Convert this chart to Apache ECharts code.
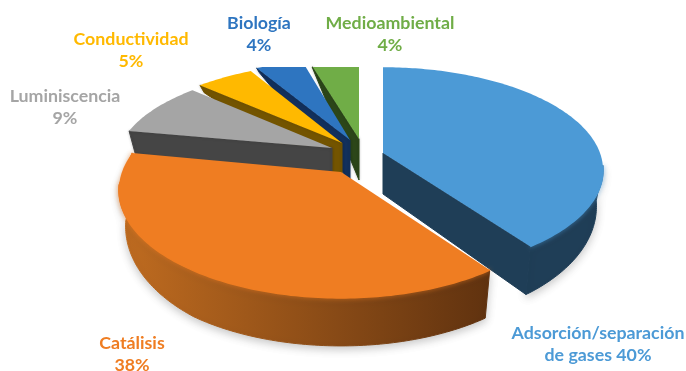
<!DOCTYPE html>
<html><head><meta charset="utf-8">
<style>html,body{margin:0;padding:0;background:#fff}#c{width:686px;height:371px}</style>
<script src="https://cdn.jsdelivr.net/npm/echarts@6/dist/echarts.min.js"></script>
</head><body><div id="c"></div>
<script>
const categories = ["Adsorción/separación\nde gases","Catálisis","Luminiscencia","Conductividad","Biología","Medioambiental"];
const values = [40,38,9,5,4,4];
const topColors = ["#4C9AD6","#EF7D22","#A5A5A5","#FFB900","#2E75C0","#70AD47"];
const wallColors = ["#1F3E57","#C06C20","#454545","#735400","#12305C","#2C4619"];
const wallEndColors = ["#1F3E57","#60320F","#454545","#735400","#12305C","#2C4619"];
const labelColors = ["#4C9AD6","#EF7D22","#A5A5A5","#FFB900","#2E75C0","#70AD47"];

// Exploded-3D view geometry of each slice
const apexX = [383,341,332,342,350,359];
const apexY = [153,172,148,143,140,139];
const radX  = [217,219,213,217,222,225];
const radY  = [100,105,94,94,94,90];
const labelX = [598,132,65,131,259,390];
const labelY = [344,354,107,50,34,34];
const order = [4,5,3,2,1,0]; // paint order per slice
const PERSP = 0.166, TOP_CLIP = 67, BOTTOM_X = 0.97, APEX_DEPTH = 41;
const depthTable = [[-1,3],[-0.7,7],[-0.2,22],[0.1,35],[0.8,48],[1,48]];

function depthAt(v){
  for(let i=1;i<depthTable.length;i++){
    const a=depthTable[i-1],b=depthTable[i];
    if(v<=b[0]) return a[1]+(b[1]-a[1])*(v-a[0])/(b[0]-a[0]);
  }
  return 48;
}
function rim(i,deg,bottom){
  const t=deg*Math.PI/180,u=Math.sin(t),v=-Math.cos(t),s=1/(1-PERSP*v);
  const sx=bottom?BOTTOM_X:1;
  return [apexX[i]+radX[i]*u*s*sx, apexY[i]+radY[i]*v*s+(bottom?depthAt(v):0)];
}
// keep only the part of a polygon below the upper limit of the drawing
function clipTop(pts){
  const out=[];
  pts.forEach((p,k)=>{
    const q=pts[(k+1)%pts.length], pin=p[1]>=TOP_CLIP, qin=q[1]>=TOP_CLIP;
    if(pin) out.push(p);
    if(pin!==qin){
      const f=(TOP_CLIP-p[1])/(q[1]-p[1]);
      out.push([p[0]+(q[0]-p[0])*f,TOP_CLIP]);
    }
  });
  return out;
}
function renderSlice(params,api){
  const i=params.dataIndex, total=values.reduce((a,b)=>a+b,0);
  const before=values.slice(0,i).reduce((a,b)=>a+b,0);
  const a0=before/total*360, a1=(before+api.value(0))/total*360;
  const z=order[i]*10, kids=[];
  const arc=[];
  for(let d=a0;d<a1;d+=1) arc.push(rim(i,d,false));
  arc.push(rim(i,a1,false));
  const apex=[apexX[i],apexY[i]], apexB=[apexX[i],apexY[i]+APEX_DEPTH];
  const wc=wallColors[i];
  const radial=(pts)=>kids.push({type:'polygon',z2:z+1,shape:{points:clipTop(pts)},
    style:{fill:wc,stroke:wc,lineWidth:1,shadowBlur:i<2?0:3,shadowColor:'rgba(0,0,0,0.2)'}});
  if(Math.sin(a0*Math.PI/180)<0) radial([apex,rim(i,a0,false),rim(i,a0,true),apexB]);
  if(Math.sin(a1*Math.PI/180)>0) radial([apex,rim(i,a1,false),rim(i,a1,true),apexB]);
  const oTop=[],oBot=[];
  for(let d=a0;d<=a1;d+=1){
    if(-Math.cos(d*Math.PI/180)>=0.12){oTop.push(rim(i,d,false));oBot.unshift(rim(i,d,true));}
  }
  if(oTop.length>1){
    oTop.push(rim(i,a1,false));oBot.unshift(rim(i,a1,true));
    const wallFill={type:'linear',x:0,y:0,x2:1,y2:0,colorStops:[
        {offset:0,color:wc},{offset:1,color:wallEndColors[i]}]};
    kids.push({type:'polygon',z2:z,shape:{points:oTop.concat(oBot)},
      style:{fill:wallFill,stroke:wallFill,lineWidth:1,
        shadowBlur:9,shadowColor:'rgba(0,0,0,0.22)',shadowOffsetY:3}});
    kids.push({type:'polyline',z2:z+2,shape:{points:oTop},
      style:{fill:null,stroke:topColors[i],lineWidth:1.5,shadowBlur:4,shadowColor:topColors[i]}});
  }
  kids.push({type:'polygon',z2:z+3,shape:{points:clipTop([apex].concat(arc))},style:{fill:topColors[i]}});
  const sep=categories[i].includes('\n')?' ':'\n';
  kids.push({type:'text',z2:200,style:{x:labelX[i],y:labelY[i],align:'center',verticalAlign:'middle',
    text:categories[i]+sep+api.value(0)+'%',fill:labelColors[i],
    font:'bold 17.8px Lato, sans-serif',lineHeight:22}});
  return {type:'group',children:kids};
}
const chart=echarts.init(document.getElementById('c'),null,{renderer:'canvas'});
chart.setOption({
  animation:false,backgroundColor:'#fff',
  series:[{type:'custom',coordinateSystem:'none',clip:false,silent:true,
    data:values.map(v=>[v]),encode:{value:0},renderItem:renderSlice}]
});
</script></body></html>
